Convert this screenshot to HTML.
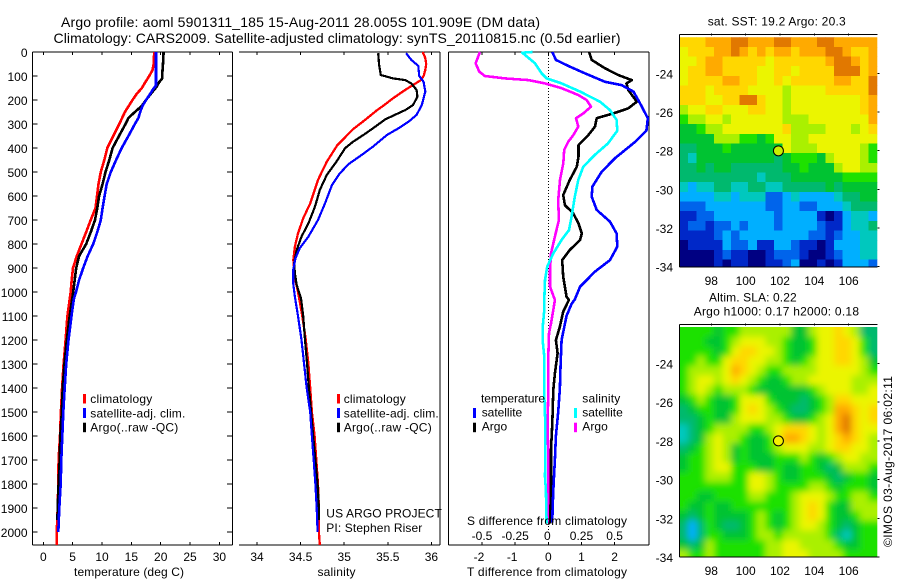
<!DOCTYPE html>
<html>
<head>
<meta charset="utf-8">
<title>Argo profile</title>
<style>
html,body{margin:0;padding:0;background:#fff;}
svg{display:block;}
text{font-family:"Liberation Sans",sans-serif;font-size:12px;fill:#000;}
.title{font-size:14px;}
</style>
</head>
<body>
<svg id="chart" xmlns="http://www.w3.org/2000/svg" width="900" height="580" viewBox="0 0 900 580">
<rect x="0" y="0" width="900" height="580" fill="#fff"/>
<defs>
<clipPath id="clipSst"><rect x="679.3" y="37.3" width="198" height="229.4"/></clipPath>
<clipPath id="clipSla"><rect x="679.3" y="327" width="198" height="230"/></clipPath>
<filter id="soft" x="-10%" y="-10%" width="120%" height="120%"><feGaussianBlur stdDeviation="3.5"/></filter>
</defs>

<text class="title" x="61" y="27" textLength="479">Argo profile: aoml 5901311_185 15-Aug-2011 28.005S 101.909E (DM data)</text>
<text class="title" x="53.5" y="43" textLength="567">Climatology: CARS2009. Satellite-adjusted climatology: synTS_20110815.nc (0.5d earlier)</text>

<g id="plots"></g>
<g id="maps"></g>

<text x="74" y="576" textLength="110">temperature (deg C)</text>
<text x="317.5" y="576" textLength="38">salinity</text>
<text x="467" y="576" textLength="160">T difference from climatology</text>
<text x="467" y="525" textLength="160">S difference from climatology</text>

<g>
<rect x="83" y="394" width="3" height="9.5" fill="#f00"/>
<text x="90.3" y="403" textLength="62">climatology</text>
<rect x="83" y="408" width="3" height="10" fill="#00f"/>
<text x="90.3" y="417.5" textLength="95">satellite-adj. clim.</text>
<rect x="83" y="422.7" width="3" height="9.5" fill="#000"/>
<text x="90.3" y="431.7" textLength="88">Argo(..raw -QC)</text>
</g>

<g>
<rect x="337" y="394" width="3" height="9.5" fill="#f00"/>
<text x="343.7" y="403" textLength="62">climatology</text>
<rect x="337" y="408" width="3" height="10" fill="#00f"/>
<text x="343.7" y="417.5" textLength="95">satellite-adj. clim.</text>
<rect x="337" y="422.7" width="3" height="9.5" fill="#000"/>
<text x="343.7" y="431.7" textLength="88">Argo(..raw -QC)</text>
</g>

<text x="326.3" y="517.7" textLength="115.5">US ARGO PROJECT</text>
<text x="326.3" y="532" textLength="96">PI: Stephen Riser</text>

<g>
<text x="481" y="402.7" textLength="64">temperature</text>
<text x="582.3" y="402.7" textLength="38">salinity</text>
<rect x="473" y="408" width="3" height="10" fill="#00f"/>
<text x="481.7" y="416.7" textLength="40.5">satellite</text>
<rect x="473" y="422.7" width="3" height="9.5" fill="#000"/>
<text x="481.7" y="430.7" textLength="25.5">Argo</text>
<rect x="574" y="408" width="3" height="10" fill="#0ff"/>
<text x="582.3" y="416.7" textLength="40.5">satellite</text>
<rect x="574" y="422.7" width="3" height="9.5" fill="#f0f"/>
<text x="582.3" y="430.7" textLength="25.5">Argo</text>
</g>

<text x="707.7" y="25.3" textLength="138">sat. SST: 19.2 Argo: 20.3</text>
<text x="709" y="301.7" textLength="87.7">Altim. SLA: 0.22</text>
<text x="693.7" y="315.7" textLength="165.3">Argo h1000: 0.17 h2000: 0.18</text>
<text transform="translate(892,547) rotate(-90)" x="0" y="0" textLength="171">©IMOS 03-Aug-2017 06:02:11</text>
</svg>

<script>
const depthTicks = [0,100,200,300,400,500,600,700,800,900,1000,1100,1200,1300,1400,1500,1600,1700,1800,1900,2000];
const tempTicks = [0,5,10,15,20,25,30];
const salTicks = [34,34.5,35,35.5,36];
const tDiffTicks = [-2,-1,0,1,2];
const sDiffTicks = [-0.5,-0.25,0,0.25,0.5];
const lonTicks = [98,100,102,104,106];
const latTicks = [24,26,28,30,32,34];

const tempClimDepth = [0,50,75,100,125,150,175,200,250,300,350,400,450,500,550,600,650,700,750,800,850,900,950,1000,1100,1200,1300,1400,1500,1600,1700,1800,1900,2000,2054];
const tempClim = [18.9,18.8,18.6,18.06,17.4,16.8,15.9,15.2,13.9,12.95,11.9,10.9,10.4,9.8,9.4,9.15,8.9,8.07,7.3,6.5,5.7,5.06,4.83,4.67,4.1,3.8,3.45,3.2,3.0,2.85,2.6,2.55,2.45,2.3,2.3];
const tempSatDepth = [0,50,100,140,150,175,200,225,250,275,300,350,400,450,500,550,600,650,700,750,800,850,900,950,1000,1030,1100,1200,1300,1400,1500,1600,1700,1800,1900,2000];
const tempSat = [19.2,19.2,19.2,19.2,18.85,18.2,17.5,16.9,16.5,16.2,15.6,14.5,13.35,12.4,11.5,10.8,10.45,10.1,9.8,9.2,8.5,7.56,6.8,6.1,5.57,5.2,4.8,4.3,3.9,3.64,3.4,3.24,3.07,2.96,2.73,2.56];
const tempArgoDepth = [0,50,75,110,115,125,145,175,200,225,250,275,300,350,400,450,500,550,600,650,700,750,800,850,900,950,1000,1100,1200,1300,1400,1500,1600,1700,1800,1900,1950];
const tempArgo = [20.5,20.4,20.3,20.25,20.1,19.76,19.3,18.3,17.5,16.76,15.6,14.5,14.0,12.9,11.8,11.25,10.6,10.1,9.5,9.2,8.8,8.1,7.3,6.1,5.6,5.35,5.1,4.5,4.0,3.6,3.3,3.15,2.9,2.8,2.6,2.45,2.4];

const salClimDepth = [0,25,50,75,100,117,135,158,193,221,244,283,322,389,457,533,631,693,756,811,867,950,1000,1100,1200,1300,1400,1500,1600,1700,1800,1900,2000,2054];
const salClim = [35.90,35.93,35.94,35.93,35.91,35.88,35.80,35.70,35.56,35.46,35.37,35.24,35.10,34.92,34.80,34.70,34.61,34.53,34.47,34.435,34.416,34.44,34.47,34.52,34.56,34.59,34.61,34.63,34.66,34.68,34.70,34.71,34.71,34.72];
const salSatDepth = [5,33,58,100,124,165,221,262,290,314,346,394,429,467,506,554,631,700,769,818,860,908,964,1020,1100,1200,1300,1400,1500,1600,1700,1800,1900,2000];
const salSat = [35.71,35.77,35.85,35.86,35.91,35.93,35.89,35.83,35.74,35.64,35.49,35.33,35.20,35.05,34.95,34.86,34.78,34.70,34.59,34.49,34.44,34.415,34.415,34.435,34.47,34.51,34.54,34.57,34.61,34.63,34.65,34.67,34.685,34.695];
const salArgoDepth = [5,54,96,110,117,131,158,186,221,242,262,281,318,346,374,401,457,512,575,644,714,769,825,880,922,971,1026,1100,1200,1300,1400,1500,1600,1700,1800,1900,1950];
const salArgo = [35.39,35.40,35.42,35.56,35.70,35.77,35.83,35.84,35.79,35.70,35.58,35.47,35.33,35.22,35.10,35.01,34.91,34.80,34.72,34.665,34.59,34.51,34.455,34.425,34.435,34.455,34.505,34.53,34.55,34.575,34.595,34.62,34.645,34.67,34.695,34.71,34.71];

const dTSatDepth = [0,33,58,89,124,138,165,214,276,328,374,443,499,561,603,658,707,756,811,867,915,978,1031,1050,1100,1200,1300,1400,1500,1600,1700,1800,1900,1960];
const dTSat = [0.12,0.23,0.60,1.11,1.71,2.21,2.57,2.77,3.0,2.96,2.62,2.01,1.61,1.33,1.31,1.46,1.86,2.06,2.08,1.86,1.41,0.96,0.80,0.70,0.55,0.40,0.37,0.35,0.30,0.23,0.20,0.16,0.13,0.12];
const dTArgoDepth = [0,33,68,96,117,131,158,207,235,256,276,311,346,388,436,478,533,596,638,672,714,756,783,825,867,936,1019,1033,1082,1144,1200,1255,1339,1408,1547,1658,1825,1964];
const dTArgo = [1.23,1.31,1.71,2.11,2.52,2.36,2.41,2.67,2.41,1.96,1.46,1.41,1.21,0.91,0.91,0.86,0.65,0.45,0.50,0.75,0.91,1.01,0.96,0.65,0.42,0.45,0.55,0.62,0.45,0.35,0.23,0.28,0.20,0.15,0.12,0.08,0.08,0.05];
const dSSatDepth = [0,3,47,89,110,131,165,207,242,283,328,381,429,478,533,603,686,742,783,839,894,950,1031,1075,1150,1200,1269,1408,1547,1686,1769,1825,1964];
const dSSat = [-0.12,-0.196,-0.10,-0.05,-0.013,0.10,0.24,0.39,0.465,0.515,0.52,0.45,0.35,0.264,0.226,0.20,0.176,0.156,0.10,0.038,-0.008,-0.025,-0.03,-0.03,-0.043,-0.043,-0.03,-0.032,-0.023,-0.023,-0.025,-0.018,-0.013];
const dSArgoDepth = [0,47,82,100,110,117,131,151,179,200,228,256,276,311,346,374,408,464,533,617,700,769,839,908,978,1033,1075,1131,1172,1269,1408,1547,1686,1825,1964];
const dSArgo = [-0.515,-0.548,-0.52,-0.478,-0.327,-0.15,-0.025,0.10,0.226,0.289,0.322,0.264,0.209,0.226,0.189,0.15,0.12,0.113,0.088,0.075,0.08,0.05,0.02,0.013,0.013,0.05,0.038,0.02,0.005,0,0,-0.005,0,0,0.005];

const sstRows = [
[10,10,10,11,11,11,12,12,11,11,11,12,12,11,11,11,12,12,11,11,11,11,11],
[9,10,10,10,11,11,12,11,10,11,10,11,11,10,11,11,11,12,12,11,10,10,11],
[9,9,10,11,11,10,10,10,10,10,9,10,10,10,10,10,10,11,12,12,11,10,11],
[9,10,10,11,11,10,10,10,10,9,9,10,10,9,10,10,10,10,12,12,12,10,11],
[9,10,10,10,10,11,11,10,10,9,9,10,9,10,10,10,10,10,11,11,10,10,12],
[10,10,10,9,10,10,10,10,9,9,9,9,8,9,9,9,9,10,10,10,10,10,12],
[10,10,10,9,9,10,10,12,12,10,9,9,8,9,9,9,9,9,9,9,9,10,11],
[8,9,9,10,10,9,9,9,10,10,9,9,8,9,9,9,9,9,9,9,9,10,11],
[7,8,8,9,9,8,9,9,9,9,9,9,8,8,8,9,9,9,9,9,9,9,11],
[6,6,7,8,8,9,9,9,9,9,9,9,10,8,8,8,8,9,9,9,8,9,10],
[6,6,6,6,8,8,8,7,7,6,7,9,9,8,8,9,9,9,9,9,9,9,9],
[5,5,6,6,6,7,6,6,6,6,6,6,9,8,8,8,9,9,9,9,9,8,7],
[5,4,6,6,6,6,6,6,6,6,6,5,6,7,7,7,6,8,9,9,9,8,7],
[5,5,6,5,6,6,5,5,5,5,5,5,6,6,7,6,6,6,8,9,9,8,8],
[5,5,5,5,5,5,5,5,5,4,5,5,5,6,6,6,6,6,6,7,7,7,7],
[4,3,4,4,5,5,4,4,5,5,4,4,5,5,5,5,5,6,5,6,6,6,6],
[3,3,3,3,4,4,3,4,4,4,2,2,3,4,3,3,3,3,4,5,5,6,6],
[2,2,2,3,3,3,3,3,3,3,2,2,3,3,2,2,3,3,3,4,5,5,5],
[1,1,2,2,3,3,3,3,3,3,3,2,3,3,3,3,1,0,1,3,4,4,3],
[1,2,2,1,2,2,3,2,3,3,3,2,3,3,3,3,2,1,1,3,4,4,5],
[1,1,1,1,2,3,2,3,3,3,3,3,3,3,3,2,2,1,2,3,3,4,4],
[0,1,1,1,1,3,2,2,3,1,1,3,3,2,1,1,0,1,3,3,3,4,4],
[0,0,0,0,1,2,1,1,0,0,1,2,2,2,1,0,0,1,2,3,3,4,4],
[0,0,0,0,1,0,1,1,0,0,1,1,2,3,0,0,1,0,1,3,3,3,2]
];

const slaRows = [
[7,7,7,7,6,7,7,8,8,8,8,8,8,6,6,8,9,9,10,9,8,5,5],
[7,7,7,6,6,7,8,9,9,9,8,8,7,6,6,7,9,9,10,10,9,7,5],
[7,7,7,7,6,7,9,10,10,9,9,8,7,6,6,7,9,9,10,10,9,7,5],
[7,7,8,7,7,9,10,10,9,9,8,8,7,6,7,8,9,9,10,10,9,8,6],
[7,8,8,8,8,9,11,10,9,8,7,7,8,8,8,8,9,9,9,9,9,8,7],
[7,8,9,9,8,9,10,9,8,7,6,6,7,8,8,9,9,9,9,9,8,8,8],
[7,8,9,8,7,8,8,8,7,6,6,6,6,6,6,7,8,9,9,9,8,8,9],
[6,7,8,7,6,6,7,9,9,9,7,6,6,6,5,6,7,8,10,10,9,9,9],
[5,6,7,7,6,6,7,9,10,9,8,7,6,5,5,6,7,8,11,11,10,9,10],
[5,5,6,7,6,6,8,9,9,9,8,8,7,6,6,7,8,9,11,12,10,9,10],
[4,5,6,7,8,8,8,8,7,7,8,9,10,10,10,9,8,9,11,12,10,9,9],
[4,5,6,8,9,8,8,7,6,6,7,9,11,11,10,9,8,9,10,11,10,9,8],
[5,6,7,8,9,8,6,7,6,6,7,8,9,9,9,8,8,9,10,10,9,9,8],
[6,7,7,8,9,8,6,7,6,6,6,7,7,7,8,7,6,7,8,9,9,8,8],
[6,7,7,8,9,9,7,7,7,6,6,7,6,6,7,7,6,5,6,8,8,8,7],
[7,7,7,8,8,8,7,7,9,9,8,7,6,6,7,7,7,6,5,6,7,7,6],
[7,7,7,7,7,7,7,7,9,9,8,7,7,7,7,8,8,7,6,7,7,7,6],
[7,7,6,6,7,7,7,7,8,8,7,7,7,8,9,9,9,8,7,7,8,8,7],
[7,6,6,7,6,6,7,7,7,7,7,7,7,8,9,10,9,7,6,6,8,8,8],
[6,5,6,7,6,6,6,6,7,8,7,6,7,8,9,10,9,7,6,6,7,8,8],
[5,3,5,7,6,5,5,6,7,8,7,6,7,8,9,9,8,7,6,5,6,7,7],
[5,3,5,7,7,6,6,6,7,8,8,7,8,8,8,8,8,7,5,4,6,7,7],
[6,5,6,8,7,7,7,7,7,7,8,8,9,9,8,8,8,8,7,6,6,7,7],
[8,7,7,8,7,7,7,7,7,7,8,8,9,9,9,8,8,8,8,7,7,7,7]
];

const argoLon = 101.909;
const argoLat = 28.005;

const mapColors = ['#000082','#0028c8','#0064eb','#00afff','#00c8be','#00b96e','#00c332','#1ee100','#aaf000','#ebf500','#ffd700','#ffaa00','#e17800'];

const NS = 'http://www.w3.org/2000/svg';
const plots = document.getElementById('plots');
const maps = document.getElementById('maps');

function depthY(d){ return 52 + d * 0.24; }
function tempX(v){ return 43.3 + v * 5.87; }
function salX(v){ return 257 + (v - 34) * 87.2; }
function dTX(v){ return 548.3 + v * 33.15; }
function dSX(v){ return 548.3 + v * 132.6; }
function lonX(v){ return 711.3 + (v - 98) * 17.17; }
function sstY(v){ return 266.7 - (34 - v) * 19.33; }
function slaY(v){ return 557 - (34 - v) * 19.37; }

function make(tag, parent, attrs){
  const el = document.createElementNS(NS, tag);
  for (const k in attrs) el.setAttribute(k, attrs[k]);
  parent.appendChild(el);
  return el;
}
function seg(parent, name, x1, y1, x2, y2, w){
  const el = make('line', parent, {x1:x1, y1:y1, x2:x2, y2:y2, stroke:'#000', 'stroke-width':w || 1, 'shape-rendering':'crispEdges'});
  
  
  return el;
}
function label(parent, name, x, y, str, anchor){
  const el = make('text', parent, {x:x, y:y, 'text-anchor':anchor || 'middle'});
  el.textContent = str;
  
  
  return el;
}
function curve(parent, name, xs, ds, xf, color, w){
  const pts = xs.map(function(v, i){ return xf(v).toFixed(1) + ',' + depthY(ds[i]).toFixed(1); }).join(' ');
  const el = make('polyline', parent, {points:pts, fill:'none', stroke:color, 'stroke-width':w, 'stroke-linejoin':'round', 'shape-rendering':'crispEdges'});
  
  
  return el;
}

const top0 = depthY(0), bot0 = 545;

/* temperature panel */
seg(plots, 'temperature-panel-top', 32.5, top0, 232.5, top0);
seg(plots, 'temperature-panel-bottom', 32.5, bot0, 232.5, bot0);
seg(plots, 'temperature-panel-left', 32.5, top0, 32.5, bot0);
seg(plots, 'temperature-panel-right', 232.5, top0, 232.5, bot0);
depthTicks.forEach(function(d){
  seg(plots, 'depth-tick-left', 32.5, depthY(d), 37.5, depthY(d));
  seg(plots, 'depth-tick-right', 227, depthY(d), 232.5, depthY(d));
  label(plots, 'depth-tick-label', 27.5, depthY(d) + 5, String(d), 'end');
});
tempTicks.forEach(function(v){
  seg(plots, 'temperature-tick-top', tempX(v), top0, tempX(v), top0 + 3);
  seg(plots, 'temperature-tick-bottom', tempX(v), bot0 - 3, tempX(v), bot0);
  label(plots, 'temperature-tick-label', tempX(v), 561, String(v));
});
curve(plots, 'temperature-climatology-line', tempClim, tempClimDepth, tempX, '#f00', 2.6);
curve(plots, 'temperature-argo-line', tempArgo, tempArgoDepth, tempX, '#000', 2.6);
curve(plots, 'temperature-satellite-line', tempSat, tempSatDepth, tempX, '#00f', 2.6);

/* salinity panel */
seg(plots, 'salinity-panel-top', 239, top0, 440, top0);
seg(plots, 'salinity-panel-bottom', 239, bot0, 440, bot0);
seg(plots, 'salinity-panel-right', 440, top0, 440, bot0);
salTicks.forEach(function(v){
  seg(plots, 'salinity-tick-top', salX(v), top0, salX(v), top0 + 3);
  seg(plots, 'salinity-tick-bottom', salX(v), bot0 - 3, salX(v), bot0);
  label(plots, 'salinity-tick-label', salX(v), 561, String(v));
});
curve(plots, 'salinity-climatology-line', salClim, salClimDepth, salX, '#f00', 2.3);
curve(plots, 'salinity-argo-line', salArgo, salArgoDepth, salX, '#000', 2.2);
curve(plots, 'salinity-satellite-line', salSat, salSatDepth, salX, '#00f', 2.2);

/* difference panel */
seg(plots, 'difference-panel-top', 448.5, top0, 649, top0);
seg(plots, 'difference-panel-bottom', 448.5, bot0, 649, bot0);
seg(plots, 'difference-panel-left', 448.5, top0, 448.5, bot0);
seg(plots, 'difference-panel-right', 649, top0, 649, bot0);
const zeroLine = make('line', plots, {x1:dTX(0), y1:depthY(0), x2:dTX(0), y2:depthY(2000), stroke:'#000', 'stroke-width':1, 'stroke-dasharray':'1 2', 'shape-rendering':'crispEdges'});


tDiffTicks.forEach(function(v){
  seg(plots, 'difference-tick-top', dTX(v), top0, dTX(v), top0 + 3);
  seg(plots, 'difference-tick-bottom', dTX(v), bot0 - 3, dTX(v), bot0);
  label(plots, 't-difference-tick-label', dTX(v) - (v < 0 ? 3 : 0), 561, String(v));
});
sDiffTicks.forEach(function(v){
  label(plots, 's-difference-tick-label', dSX(v) - (v === 0 ? 1 : 0), 540, String(v));
});
curve(plots, 's-argo-difference-line', dSArgo, dSArgoDepth, dSX, '#f0f', 2.6);
curve(plots, 't-argo-difference-line', dTArgo, dTArgoDepth, dTX, '#000', 2.6);
curve(plots, 's-satellite-difference-line', dSSat, dSSatDepth, dSX, '#0ff', 2.6);
curve(plots, 't-satellite-difference-line', dTSat, dTSatDepth, dTX, '#00f', 2.6);

/* maps */
const lonStart = 96.15, latStart = 22.125, cell = 0.5;

const sstGroup = make('g', maps, {'clip-path':'url(#clipSst)'});


sstRows.forEach(function(row, r){
  row.forEach(function(val, c){
    const lat0 = latStart + r * cell;
    const lon0 = lonStart + c * cell;
    const x0 = lonX(lon0), y0 = sstY(lat0);
    const rect = make('rect', sstGroup, {x:x0, y:y0, width:lonX(lon0 + cell) - x0 + 0.5, height:sstY(lat0 + cell) - y0 + 0.5, fill:mapColors[val], 'shape-rendering':'crispEdges'});
    
    
  });
});

const slaClip = make('g', maps, {'clip-path':'url(#clipSla)'});


const slaGroup = make('g', slaClip, {filter:'url(#soft)'});
const lastR = slaRows.length - 1;
slaRows.forEach(function(row, r){
  row.forEach(function(val, c){
    const lat0 = latStart + r * cell;
    const lon0 = lonStart + c * cell;
    const padL = c === 0 ? 14 : 0;
    const padR = c === row.length - 1 ? 14 : 0;
    const padT = r === 0 ? 14 : 0;
    const padB = r === lastR ? 14 : 0;
    const x0 = lonX(lon0), y0 = slaY(lat0);
    const rect = make('rect', slaGroup, {x:x0 - padL, y:y0 - padT, width:lonX(lon0 + cell) - x0 + 0.5 + padL + padR, height:slaY(lat0 + cell) - y0 + 0.5 + padT + padB, fill:mapColors[val]});
    
    
  });
});

function mapFrame(prefix, yf, topY, botY, lonLabelY){
  seg(maps, prefix + '-frame-left', 679.3, topY, 679.3, botY);
  seg(maps, prefix + '-frame-top', 679.3, topY, 877.3, topY);
  seg(maps, prefix + '-frame-bottom', 679.3, botY, 877.3, botY);
  lonTicks.forEach(function(v){
    seg(maps, prefix + '-lon-tick', lonX(v), topY - 1, lonX(v), topY + 1);
    label(maps, prefix + '-lon-label', lonX(v), lonLabelY, String(v));
  });
  latTicks.forEach(function(v){
    seg(maps, prefix + '-lat-tick', 877.3, yf(v), 879.5, yf(v));
    label(maps, prefix + '-lat-label', 673, yf(v) + 5, '-' + v, 'end');
  });
}
mapFrame('sst', sstY, 34.3, 267, 285);
mapFrame('sla', slaY, 324.3, 557, 575);

const sstMarker = make('circle', maps, {cx:lonX(argoLon), cy:sstY(argoLat), r:5, fill:'#c8f000', stroke:'#000', 'stroke-width':1});


const slaMarker = make('circle', maps, {cx:lonX(argoLon), cy:slaY(argoLat), r:5, fill:'#f5f000', stroke:'#000', 'stroke-width':1});


</script>
</body>
</html>
